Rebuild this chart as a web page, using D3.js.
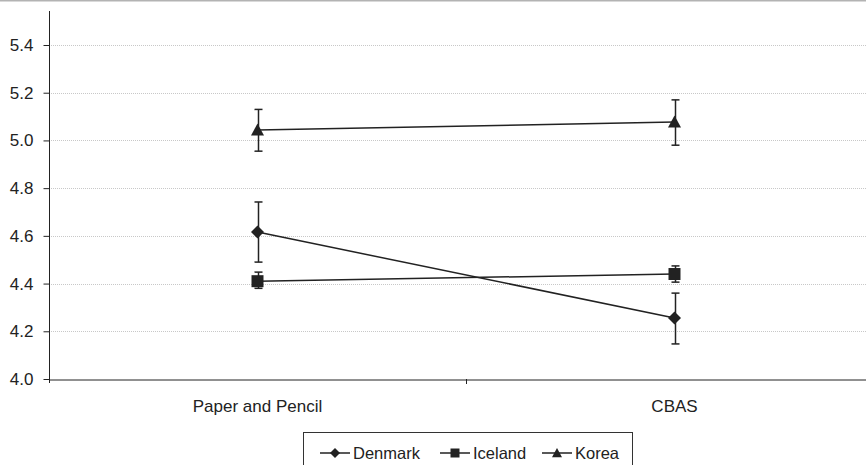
<!DOCTYPE html>
<html>
<head>
<meta charset="utf-8">
<script src="https://cdn.jsdelivr.net/npm/d3@7"></script>
<style>
  body { margin: 0; background: #fff; }
  svg { display: block; font-family: "Liberation Sans", Arial, sans-serif; }
  .tick text { font-size: 17px; fill: #222; }
</style>
</head>
<body>
<svg id="chart" width="866" height="465"></svg>
<script>
// Data
const categories = ['Paper and Pencil', 'CBAS'];
const seriesNames = ['Denmark', 'Iceland', 'Korea'];
const seriesShapes = ['diamond', 'square', 'triangle'];
const denmarkMean = [4.616, 4.256];
const denmarkLow  = [4.49, 4.147];
const denmarkHigh = [4.742, 4.36];
const icelandMean = [4.41, 4.44];
const icelandLow  = [4.38, 4.406];
const icelandHigh = [4.448, 4.474];
const koreaMean = [5.044, 5.077];
const koreaLow  = [4.955, 4.98];
const koreaHigh = [5.13, 5.17];
const yTicks = [4.0, 4.2, 4.4, 4.6, 4.8, 5.0, 5.2, 5.4];

const series = [
  { name: seriesNames[0], shape: seriesShapes[0], mean: denmarkMean, low: denmarkLow, high: denmarkHigh },
  { name: seriesNames[1], shape: seriesShapes[1], mean: icelandMean, low: icelandLow, high: icelandHigh },
  { name: seriesNames[2], shape: seriesShapes[2], mean: koreaMean, low: koreaLow, high: koreaHigh }
];

const svg = d3.select('#chart');
const margin = { left: 49, top: 11 };
const plotBottom = 379;

// top rule across the frame
svg.append('line')
  .attr('x1', 0).attr('x2', 866).attr('y1', 0.5).attr('y2', 0.5)
  .attr('stroke', '#b3b3b3').attr('stroke-width', 2);

const x = d3.scaleBand().domain(categories).range([margin.left, 883]);
const y = d3.scaleLinear().domain([4.0, 5.4]).range([plotBottom, 45]);

// gridlines
svg.append('g')
  .selectAll('line')
  .data(yTicks.filter(d => d > 4.0))
  .join('line')
    .attr('x1', margin.left).attr('x2', 866)
    .attr('y1', d => Math.round(y(d)) + 0.5).attr('y2', d => Math.round(y(d)) + 0.5)
    .attr('stroke', '#c8c8c8').attr('stroke-dasharray', '1,1');

// y axis
const yAxisG = svg.append('g')
  .attr('transform', `translate(${margin.left + 0.5},0)`)
  .call(d3.axisLeft(y).tickValues(yTicks).tickFormat(d3.format('.1f')).tickSize(6).tickPadding(10));
yAxisG.select('.domain').remove();
yAxisG.selectAll('.tick line').attr('stroke', '#222');
svg.append('line')
  .attr('x1', margin.left + 0.5).attr('x2', margin.left + 0.5)
  .attr('y1', margin.top).attr('y2', plotBottom + 4)
  .attr('stroke', '#222');

// x axis
const xAxisG = svg.append('g')
  .attr('transform', `translate(0,${Math.round(plotBottom) + 0.5})`)
  .call(d3.axisBottom(x).tickSize(0).tickPadding(0));
xAxisG.select('.domain').attr('stroke', '#222');
xAxisG.selectAll('.tick text').attr('dy', null).attr('y', 32);
// category separator tick
svg.append('line')
  .attr('x1', x(categories[1]) + 0.5).attr('x2', x(categories[1]) + 0.5)
  .attr('y1', plotBottom).attr('y2', plotBottom + 5)
  .attr('stroke', '#222');

function symbolPath(shape, r) {
  if (shape === 'diamond') return `M0,${-r}L${r},0L0,${r}L${-r},0Z`;
  if (shape === 'square') return `M${-r},${-r}H${r}V${r}H${-r}Z`;
  return `M0,${-r}L${r},${r * 0.85}L${-r},${r * 0.85}Z`;
}
const markR = { diamond: 6.5, square: 6, triangle: 6.5 };

const cx = c => x(c) + x.bandwidth() / 2;
const line = d3.line().x(d => cx(d.cat)).y(d => y(d.v));

series.forEach(s => {
  const pts = categories.map((c, i) => ({ cat: c, v: s.mean[i], lo: s.low[i], hi: s.high[i] }));
  const g = svg.append('g');
  g.append('path')
    .datum(pts)
    .attr('d', line)
    .attr('fill', 'none').attr('stroke', '#222').attr('stroke-width', 1.5);
  // error bars
  pts.forEach(p => {
    const px = Math.round(cx(p.cat)) + 0.5;
    g.append('line').attr('x1', px).attr('x2', px).attr('y1', y(p.hi)).attr('y2', y(p.lo))
      .attr('stroke', '#222').attr('stroke-width', 1.5);
    [p.hi, p.lo].forEach(v => {
      g.append('line').attr('x1', px - 4).attr('x2', px + 4).attr('y1', y(v)).attr('y2', y(v))
        .attr('stroke', '#222').attr('stroke-width', 1.5);
    });
  });
  g.selectAll('path.mark')
    .data(pts)
    .join('path')
      .attr('class', 'mark')
      .attr('d', symbolPath(s.shape, markR[s.shape]))
      .attr('transform', d => `translate(${cx(d.cat)},${y(d.v)})`)
      .attr('fill', '#222');
});

// legend
const legend = svg.append('g');
legend.append('rect')
  .attr('x', 303.5).attr('y', 432.5).attr('width', 329).attr('height', 40)
  .attr('fill', '#fff').attr('stroke', '#333');
const legendX = [320, 440, 542];
series.forEach((s, i) => {
  const lx = legendX[i], ly = 453;
  legend.append('line').attr('x1', lx).attr('x2', lx + 30).attr('y1', ly).attr('y2', ly)
    .attr('stroke', '#222').attr('stroke-width', 1.5);
  legend.append('path')
    .attr('d', symbolPath(s.shape, s.shape === 'square' ? 4.5 : 5))
    .attr('transform', `translate(${lx + 15},${ly})`)
    .attr('fill', '#222');
  legend.append('text')
    .attr('x', lx + 33).attr('y', 459)
    .attr('font-size', 16.5).attr('fill', '#222')
    .text(s.name);
});
</script>
</body>
</html>
